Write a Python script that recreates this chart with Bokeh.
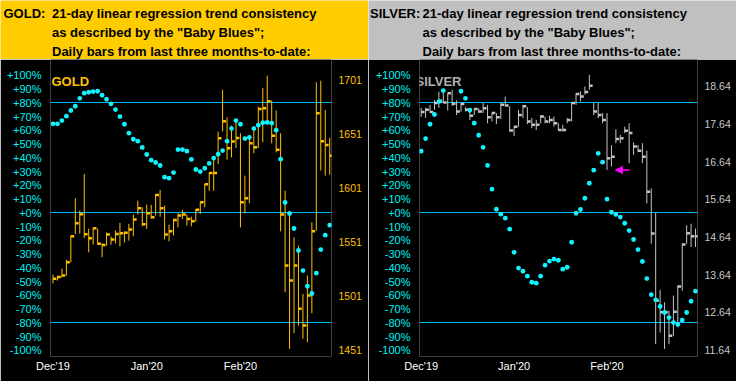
import numpy as np
from bokeh.plotting import figure
from bokeh.layouts import row, column
from bokeh.models import (Range1d, LinearAxis, FixedTicker, NumeralTickFormatter,
                          Arrow, NormalHead, ColumnDataSource, Label)
from bokeh.embed import file_html
from bokeh.resources import INLINE
from bokeh.core.properties import value

# ---------------- data ----------------
months = ["Dec'19", "Jan'20", "Feb'20"]
month_start_bar = [0, 21, 42]
pct_ticks = list(range(-100, 101, 10))
band_levels = [80, 0, -80]

gold_price_ticks = [1451, 1501, 1551, 1601, 1651, 1701]
silver_price_ticks = [11.64, 12.64, 13.64, 14.64, 15.64, 16.64, 17.64, 18.64]

gold_high = [1520.4, 1519.2, 1526.0, 1534.0, 1556.6, 1591.1, 1579.7, 1613.7, 1563.0, 1564.0,
             1563.0, 1549.4, 1559.3, 1555.6, 1561.2, 1568.3, 1560.5, 1567.4, 1576.0, 1589.0,
             1582.8, 1585.3, 1585.0, 1595.2, 1598.9, 1584.3, 1566.7, 1572.0, 1577.2, 1580.4,
             1576.0, 1574.1, 1581.2, 1588.0, 1604.4, 1615.2, 1626.0, 1652.8, 1691.7, 1666.0,
             1658.4, 1664.6, 1651.3, 1612.1, 1647.0, 1657.5, 1676.0, 1693.3, 1704.7, 1681.6,
             1672.3, 1651.3, 1598.2, 1578.0, 1555.0, 1547.3, 1502.6, 1519.5, 1568.9, 1698.5,
             1700.0, 1672.9, 1647.0]
gold_low = [1512.4, 1514.9, 1517.7, 1519.5, 1531.8, 1558.1, 1558.4, 1554.4, 1541.1, 1548.2,
            1548.2, 1536.5, 1547.3, 1548.2, 1549.4, 1546.6, 1550.1, 1551.9, 1555.9, 1576.0,
            1565.2, 1562.8, 1572.0, 1575.1, 1574.1, 1552.9, 1551.3, 1556.6, 1564.2, 1572.0,
            1565.8, 1565.2, 1569.5, 1576.6, 1582.8, 1598.0, 1598.0, 1622.8, 1653.0, 1626.9,
            1629.0, 1637.7, 1564.2, 1577.2, 1586.5, 1632.8, 1637.7, 1643.0, 1660.0, 1642.0,
            1633.7, 1560.5, 1504.0, 1451.6, 1466.1, 1473.2, 1460.9, 1457.8, 1484.6, 1561.2,
            1616.7, 1612.1, 1613.0]
gold_close = [1516.5, 1518.3, 1519.5, 1531.8, 1555.9, 1568.0, 1576.3, 1557.8, 1554.1, 1563.3,
              1548.9, 1547.9, 1557.5, 1552.9, 1558.1, 1558.7, 1559.3, 1562.1, 1571.4, 1581.8,
              1567.0, 1577.2, 1573.5, 1594.2, 1581.8, 1557.5, 1560.5, 1571.1, 1575.1, 1576.0,
              1572.0, 1569.9, 1580.5, 1587.4, 1604.0, 1614.5, 1614.6, 1646.6, 1662.4, 1637.4,
              1643.8, 1647.0, 1587.4, 1591.1, 1642.1, 1638.3, 1673.9, 1674.4, 1680.9, 1649.1,
              1636.0, 1576.0, 1528.8, 1514.9, 1528.8, 1488.7, 1473.2, 1501.0, 1560.5, 1669.8,
              1643.9, 1640.5, 1630.6]
gold_blues = [64.7, 64.7, 67.1, 70.3, 74.4, 77.5, 83.3, 87.0, 87.7, 88.2,
              88.4, 85.5, 82.6, 79.3, 75.1, 70.0, 64.4, 57.9, 53.5, 52.1,
              47.5, 42.4, 38.3, 36.6, 34.4, 25.9, 25.2, 29.3, 46.0, 46.0,
              44.8, 38.8, 31.5, 30.0, 32.4, 35.9, 39.7, 42.6, 45.3, 52.1,
              61.3, 67.1, 64.4, 54.0, 54.8, 61.3, 63.7, 65.5, 65.7, 65.2,
              60.1, 39.0, 7.5, -0.5, -11.4, -27.4, -42.0, -53.4, -58.7, -43.9,
              -26.7, -16.3, -9.0]

silver_high = [18.07, 18.07, 18.15, 18.28, 18.50, 18.57, 18.46, 18.55, 18.27, 18.20,
               18.09, 18.06, 18.06, 18.06, 18.20, 18.15, 17.95, 17.93, 18.20, 18.37,
               18.11, 17.59, 18.02, 18.15, 18.09, 17.80, 17.75, 17.88, 17.84, 17.86,
               17.84, 17.66, 17.62, 17.80, 18.21, 18.46, 18.51, 18.64, 18.95, 18.21,
               18.20, 17.93, 17.93, 17.08, 17.50, 17.35, 17.57, 17.66, 17.15, 17.08,
               17.13, 16.93, 15.93, 15.28, 13.23, 12.90, 12.68, 13.08, 13.35, 14.46,
               14.95, 14.99, 14.86]
silver_low = [17.83, 17.80, 17.93, 18.02, 18.07, 18.20, 18.00, 18.12, 17.88, 17.97,
              17.97, 17.75, 17.88, 17.93, 17.93, 17.66, 17.71, 17.64, 17.77, 18.11,
              17.44, 17.32, 17.57, 17.80, 17.64, 17.53, 17.48, 17.66, 17.66, 17.66,
              17.57, 17.47, 17.44, 17.66, 17.71, 18.15, 18.24, 18.42, 18.55, 17.88,
              17.80, 17.66, 16.42, 16.51, 17.13, 17.13, 17.40, 16.60, 16.82, 16.90,
              16.60, 15.53, 14.46, 11.79, 12.10, 11.66, 11.79, 12.01, 12.24, 13.21,
              14.46, 14.37, 14.37]
silver_close = [17.96, 18.02, 17.96, 18.20, 18.26, 18.21, 18.46, 18.18, 17.97, 18.17,
                18.02, 17.86, 18.04, 17.97, 18.06, 17.82, 17.93, 17.82, 18.15, 18.13,
                17.47, 17.57, 17.88, 18.11, 17.71, 17.62, 17.62, 17.84, 17.71, 17.75,
                17.66, 17.48, 17.48, 17.75, 18.20, 18.44, 18.37, 18.49, 18.66, 17.97,
                17.88, 17.75, 16.73, 16.77, 17.24, 17.26, 17.46, 17.40, 17.04, 16.93,
                16.77, 15.84, 14.73, 12.95, 12.64, 12.64, 12.01, 12.65, 13.32, 14.44,
                14.74, 14.66, 14.66]
silver_blues = [44.8, 54.0, 64.4, 71.5, 80.9, 88.9, np.nan, np.nan, np.nan, 88.4,
                83.3, 74.6, 65.2, 56.4, 47.6, 34.5, 17.2, 2.6, -1.0, -3.9,
                -11.9, -28.7, -40.2, -42.5, -46.1, -50.5, -51.2, -46.1, -38.1, -35.2,
                -33.7, -34.5, -41.0, -39.6, -21.4, -0.3, 2.4, 10.6, 21.5, 31.0,
                43.3, 36.8, 9.9, 0.4, -1.2, -3.1, -7.6, -12.9, -19.4, -26.7,
                -35.4, -47.8, -59.5, -63.3, -68.1, -72.5, -76.2, -79.8, -81.2, -78.1,
                -72.5, -64.3, -57.0]

# magenta pointer on the silver panel (bar index span, percent level)
arrow_from_bar, arrow_to_bar, arrow_level = 47.1, 43.9, 31.1

gold_title = ["GOLD:", "21-day linear regression trend consistency",
              "as described by the \"Baby Blues\";", "Daily bars from last three months-to-date:"]
silver_title = ["SILVER:", "21-day linear regression trend consistency",
                "as described by the \"Baby Blues\";", "Daily bars from last three months-to-date:"]

# ---------------- styling ----------------
FONT = "Liberation Sans"
W = 368
HEAD_H = 59
CH = 322
Y0, Y1 = -104.5, 111.5
LINE_C = "#00BCF5"
DOT_C = "#10F4FF"
PCT_C = "#00F4F4"
MAG = "#FF00FF"


def header(bg, lines, name_x, col_x):
    h = figure(width=W, height=HEAD_H, x_range=Range1d(0, W), y_range=Range1d(HEAD_H, 0),
               toolbar_location=None, output_backend="svg", min_border=0, title=None,
               x_axis_location=None, y_axis_location=None, frame_align=False)
    h.xgrid.visible = False
    h.ygrid.visible = False
    h.background_fill_color = bg
    h.border_fill_color = bg
    h.outline_line_color = None
    h.text(x=[name_x, col_x, col_x, col_x], y=[13.0, 13.0, 32.3, 51.2], text=lines,
           text_font=value(FONT), text_font_style="bold", text_font_size="13px",
           text_color="black", text_baseline="alphabetic", text_align="left")
    return h


def chart(name, name_color, name_dx, bar_color, price_color, high, low, close, blues,
          price_ticks, price_fmt, price_at_m100, price_per_pct, left_b, right_b, xr):
    c = figure(width=W, height=CH, x_range=Range1d(*xr), y_range=Range1d(Y0, Y1),
               toolbar_location=None, output_backend="svg", title=None,
               min_border_left=left_b, min_border_right=right_b,
               min_border_top=0, min_border_bottom=25, frame_align=False)
    c.background_fill_color = "black"
    c.border_fill_color = "black"
    c.outline_line_color = None
    c.xgrid.visible = False
    c.ygrid.visible = False
    c.extra_y_ranges = {"price": Range1d(price_at_m100 + (Y0 + 100) * price_per_pct,
                                         price_at_m100 + (Y1 + 100) * price_per_pct)}

    ya = c.yaxis[0]
    ya.ticker = FixedTicker(ticks=pct_ticks)
    ya.major_label_overrides = {t: (f"+{t}%" if t >= 0 else f"{t}%") for t in pct_ticks}
    ra = LinearAxis(y_range_name="price", ticker=FixedTicker(ticks=price_ticks),
                    formatter=NumeralTickFormatter(format=price_fmt))
    c.add_layout(ra, "right")
    xa = c.xaxis[0]
    xa.ticker = FixedTicker(ticks=month_start_bar)
    xa.major_label_overrides = dict(zip(month_start_bar, months))

    for ax, col, size, stand in ((ya, PCT_C, "11px", 9), (ra, price_color, "10.5px", 7),
                                 (xa, "white", "11px", 3)):
        ax.axis_line_color = None
        ax.major_tick_line_color = None
        ax.minor_tick_line_color = None
        ax.major_tick_in = 0
        ax.major_tick_out = 0
        ax.minor_tick_in = 0
        ax.minor_tick_out = 0
        ax.major_label_text_color = col
        ax.major_label_text_font = FONT
        ax.major_label_text_font_size = size
        ax.major_label_standoff = stand

    c.hspan(y=band_levels, line_color=LINE_C, line_width=1)

    idx = np.arange(len(high))
    src = ColumnDataSource(dict(x=idx, xt=idx + 0.75, high=high, low=low, close=close))
    c.segment(x0="x", y0="low", x1="x", y1="high", source=src, y_range_name="price",
              line_color=bar_color, line_width=1)
    c.segment(x0="x", y0="close", x1="xt", y1="close", source=src, y_range_name="price",
              line_color=bar_color, line_width=2.5)

    c.scatter(x=idx, y=np.array(blues, dtype=float), size=4.8, marker="circle",
              fill_color=DOT_C, line_color=None)

    c.add_layout(Label(x=xr[0], y=95.7, x_offset=name_dx, text=name, text_color=name_color,
                       text_font=FONT, text_font_style="bold", text_font_size="13px",
                       text_baseline="alphabetic", text_align="left"))
    return c


g_head = header("#FFCC00", gold_title, 3, 51.5)
s_head = header("#C0C0C0", silver_title, 1.5, 54)

g_chart = chart("GOLD", "#FFC000", 1, "#FFC000", "#FFC000", gold_high, gold_low, gold_close,
                gold_blues, gold_price_ticks, "0", 1450.3, 1.2735, 50, 37, (-0.56, 62.4))
s_chart = chart("SILVER", "#B0B0B0", -4, "#C4C4C4", "#C8C8C8", silver_high, silver_low,
                silver_close, silver_blues, silver_price_ticks, "0.00", 11.625, 0.03655, 51, 39,
                (-0.38, 62.45))

s_chart.add_layout(Arrow(end=NormalHead(size=7, fill_color=MAG, line_color=MAG),
                         x_start=arrow_from_bar, y_start=arrow_level,
                         x_end=arrow_to_bar, y_end=arrow_level,
                         line_color=MAG, line_width=1.5))

p = row(column(g_head, g_chart, spacing=0), column(s_head, s_chart, spacing=0), spacing=0)

open("out.html", "w").write(file_html(p, INLINE))
